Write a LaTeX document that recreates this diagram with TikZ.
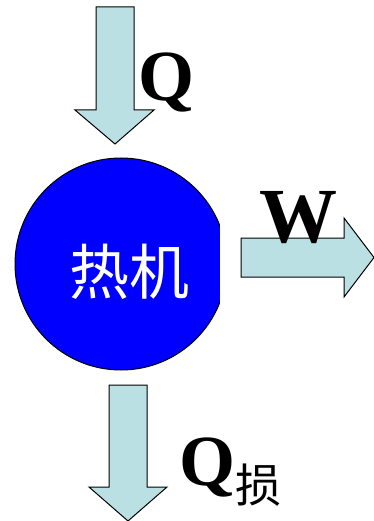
\documentclass[tikz,border=0pt]{standalone}
\usepackage{fontspec}
\newfontfamily\timesfont{Liberation Serif}
\newfontfamily\cjkfont{Noto Sans CJK SC}
\definecolor{ArrowCyan}{HTML}{BBE0E3}
\definecolor{EngineBlue}{HTML}{0000FF}
\usetikzlibrary{positioning}

\begin{document}
\begin{tikzpicture}[x=1pt, y=-1pt,
    blockarrow/.style={draw=black, line width=1pt, fill=ArrowCyan, line join=miter},
    engine/.style={circle, draw=black, line width=1pt, fill=EngineBlue,
                   minimum size=212pt, inner sep=0pt},
    lbl/.style={inner sep=0pt, anchor=base,
                font=\timesfont\bfseries\fontsize{72}{72}\selectfont}]
  \useasboundingbox (0,0) rectangle (373,521);
  % Heat engine
  \node[engine] (engine) at (121,264) {};
  \node[text=white, inner sep=0pt, font=\cjkfont\fontsize{60}{60}\selectfont]
    (name) at (129,272) {热机};
  \fill[white] (220,220) rectangle (239,315);
  % Heat in
  \draw[blockarrow] (96,7) -- (134,7) -- (134,110) -- (154,110) -- (115,144)
    -- (75,110) -- (96,110) -- cycle;
  \node[lbl] (qin) at (166,101) {Q};
  % Work out
  \draw[blockarrow] (241,238) -- (344,238) -- (344,218) -- (374,257.5)
    -- (344,297) -- (344,277) -- (241,277) -- cycle;
  \node[lbl, font=\timesfont\bfseries\fontsize{78}{78}\selectfont] (work) at (298,242) {W};
  % Heat lost
  \draw[blockarrow] (109,385) -- (147,385) -- (147,487) -- (167,487) -- (128,521)
    -- (89,487) -- (109,487) -- cycle;
  \node[lbl, anchor=base west] (qloss) at (179,485)
    {Q\raisebox{-17pt}{\cjkfont\mdseries\fontsize{46}{46}\selectfont 损}};
\end{tikzpicture}
\end{document}
